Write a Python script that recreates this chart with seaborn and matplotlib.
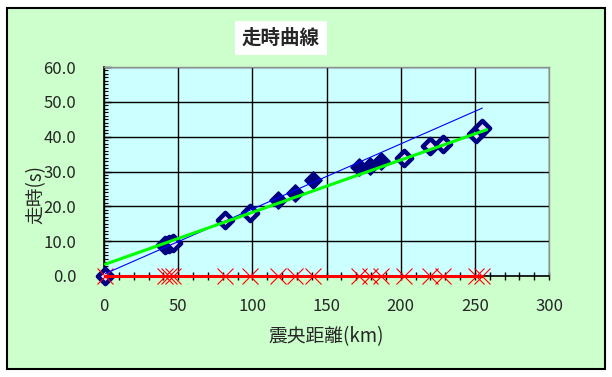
import numpy as np
import seaborn as sns
import matplotlib.pyplot as plt
from matplotlib.patches import Rectangle
from matplotlib.ticker import MultipleLocator, FormatStrFormatter

# 観測データ（震央距離 km, 走時 s）
dist = [1, 41, 44, 46.5, 81.6, 98.3, 117, 128.7, 141, 171.6, 179.3, 186.7,
        202.3, 220, 228.7, 251, 255]
time = [0, 8.9, 9.2, 9.5, 16.0, 18.0, 21.8, 23.9, 27.5, 31.4, 31.6, 33.1,
        33.9, 37.4, 37.8, 40.9, 42.4]
filled = [False, False, False, False, False, False, True, True, True, True,
          True, True, False, False, False, False, False]

# 距離軸上の点（走時 0）
base_time = [0] * len(dist)

# 近似直線
blue_x = [1, 255]
blue_y = [0.7, 48.2]
green_x = [1, 258]
green_y = [3.4, 42.0]

sns.set_style("white")
plt.rcParams['font.family'] = ['Noto Sans CJK JP', 'DejaVu Sans']

fig = plt.figure(figsize=(6.12, 3.77), dpi=100)
fig.patch.set_facecolor("white")
fig.patches.append(Rectangle((7 / 612, 8 / 377), 598 / 612, 361 / 377,
                             transform=fig.transFigure, facecolor="#CCFFCC",
                             edgecolor="black", linewidth=1.5, zorder=-10))

ax = fig.add_axes([104 / 612, 101 / 377, 445 / 612, 209 / 377])
ax.set_zorder(1)
ax.set_facecolor("#CCFFFF")

d_f = [d for d, f in zip(dist, filled) if f]
t_f = [t for t, f in zip(time, filled) if f]
d_o = [d for d, f in zip(dist, filled) if not f]
t_o = [t for t, f in zip(time, filled) if not f]

sns.scatterplot(x=d_f, y=t_f, marker="D", s=75, color="#000080",
                edgecolor="#000080", linewidth=1.2, ax=ax, zorder=3, clip_on=False)
sns.scatterplot(x=d_o, y=t_o, marker="D", s=60, color="#E8E0FF",
                edgecolor="#000080", linewidth=3.2, ax=ax, zorder=3, clip_on=False)

sns.lineplot(x=dist, y=base_time, color="red", linewidth=2.2, marker="x",
             markersize=11, markeredgewidth=0.8, markeredgecolor="red",
             ax=ax, zorder=4, clip_on=False, sort=False)
sns.lineplot(x=blue_x, y=blue_y, color="#0000FF", linewidth=0.8, ax=ax, zorder=5)
sns.lineplot(x=green_x, y=green_y, color="#00FF00", linewidth=2.2, ax=ax, zorder=6)

ax.set_xlim(0, 300)
ax.set_ylim(0, 60)
ax.xaxis.set_major_locator(MultipleLocator(50))
ax.xaxis.set_minor_locator(MultipleLocator(10))
ax.yaxis.set_major_locator(MultipleLocator(10))
ax.yaxis.set_minor_locator(MultipleLocator(1))
ax.yaxis.set_major_formatter(FormatStrFormatter("%.1f"))
ax.grid(True, which="major", color="black", linewidth=1)
ax.set_axisbelow(True)

ax.tick_params(axis="x", which="both", direction="inout", length=6, width=1,
               color="black", labelsize=12, pad=13)
ax.tick_params(axis="y", which="major", direction="in", length=5, width=1,
               color="black", labelsize=12, pad=20)
ax.tick_params(axis="y", which="minor", direction="in", length=3, width=0.8,
               color="black")
ax.tick_params(left=True, bottom=True, which="both")

for side in ["left", "bottom"]:
    ax.spines[side].set_color("black")
    ax.spines[side].set_linewidth(1.2)
for side in ["top", "right"]:
    ax.spines[side].set_color("#909090")
    ax.spines[side].set_linewidth(1)

ax.set_xlabel("震央距離(km)", fontsize=13.5, labelpad=8)
ax.set_ylabel("")
fig.text(36 / 612, 1 - 195 / 377, "走時(s)", rotation=90, fontsize=13.5,
         ha="center", va="center")

fig.text(281 / 612, 1 - 38 / 377, "走時曲線", fontsize=14, fontweight="bold",
         ha="center", va="center",
         bbox=dict(facecolor="white", edgecolor="none", pad=5))

fig.savefig("out.png", dpi=100)
plt.close(fig)
